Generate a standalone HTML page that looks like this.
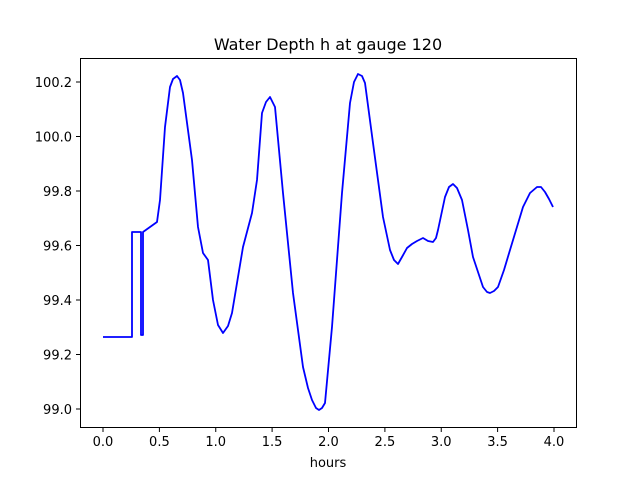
<!DOCTYPE html><html><head><style>body{margin:0;background:#fff}</style></head><body>
<svg width="640" height="480" xmlns="http://www.w3.org/2000/svg" font-family="DejaVu Sans, Liberation Sans, sans-serif">
<rect width="640" height="480" fill="#fff"/>
<text x="328" y="50" font-size="16" text-anchor="middle">Water Depth h at gauge 120</text>
<polyline fill="none" stroke="#0000ff" stroke-width="1.8" stroke-linejoin="round" points="103,337 132,337 132,232 141,232 141,335 143,335 143,232 150,227 157,222 160,200 165,127 170,87 173,79 177,76 180,80 183,93 192,160 198,227 203,253 208,260 213,300 218,325 223,333 228,326 232,313 243,247 252,213 257,180 262,113 266,102 270,97 275,107 283,193 293,293 303,367 308,388 312,400 316,408 319,410 322,408 325,403 332,327 342,193 350,103 354,82 358,74 362,76 365,83 373,143 383,217 390,250 394,260 398,264 402,257 407,248 412,244 417,241 423,238 428,241 433,242 436,238 438,230 445,197 449,187 453,184 457,188 462,200 468,230 473,257 483,287 487,292 490,293 494,291 498,287 504,270 510,250 523,207 530,193 537,187 541,187 545,192 549,199 553,207"/>
<rect x="80.5" y="58.5" width="496" height="369" fill="none" stroke="#000" stroke-width="1"/>
<g stroke="#000" stroke-width="1">
<line x1="103" y1="428" x2="103" y2="432"/><line x1="159.4" y1="428" x2="159.4" y2="432"/><line x1="215.75" y1="428" x2="215.75" y2="432"/><line x1="272.1" y1="428" x2="272.1" y2="432"/><line x1="328.5" y1="428" x2="328.5" y2="432"/><line x1="384.9" y1="428" x2="384.9" y2="432"/><line x1="441.25" y1="428" x2="441.25" y2="432"/><line x1="497.6" y1="428" x2="497.6" y2="432"/><line x1="554" y1="428" x2="554" y2="432"/>
<line x1="76" y1="409" x2="80" y2="409"/><line x1="76" y1="354.5" x2="80" y2="354.5"/><line x1="76" y1="300" x2="80" y2="300"/><line x1="76" y1="245.5" x2="80" y2="245.5"/><line x1="76" y1="191" x2="80" y2="191"/><line x1="76" y1="136.5" x2="80" y2="136.5"/><line x1="76" y1="82" x2="80" y2="82"/>
</g>
<g font-size="13" text-anchor="middle">
<text x="103" y="446">0.0</text><text x="159.4" y="446">0.5</text><text x="215.75" y="446">1.0</text><text x="272.1" y="446">1.5</text><text x="328.5" y="446">2.0</text><text x="384.9" y="446">2.5</text><text x="441.25" y="446">3.0</text><text x="497.6" y="446">3.5</text><text x="554" y="446">4.0</text>
<text x="328" y="467">hours</text>
</g>
<g font-size="13" text-anchor="end">
<text x="72" y="414">99.0</text><text x="72" y="359.5">99.2</text><text x="72" y="305">99.4</text><text x="72" y="250.5">99.6</text><text x="72" y="196">99.8</text><text x="72" y="141.5">100.0</text><text x="72" y="87">100.2</text>
</g>
</svg></body></html>
